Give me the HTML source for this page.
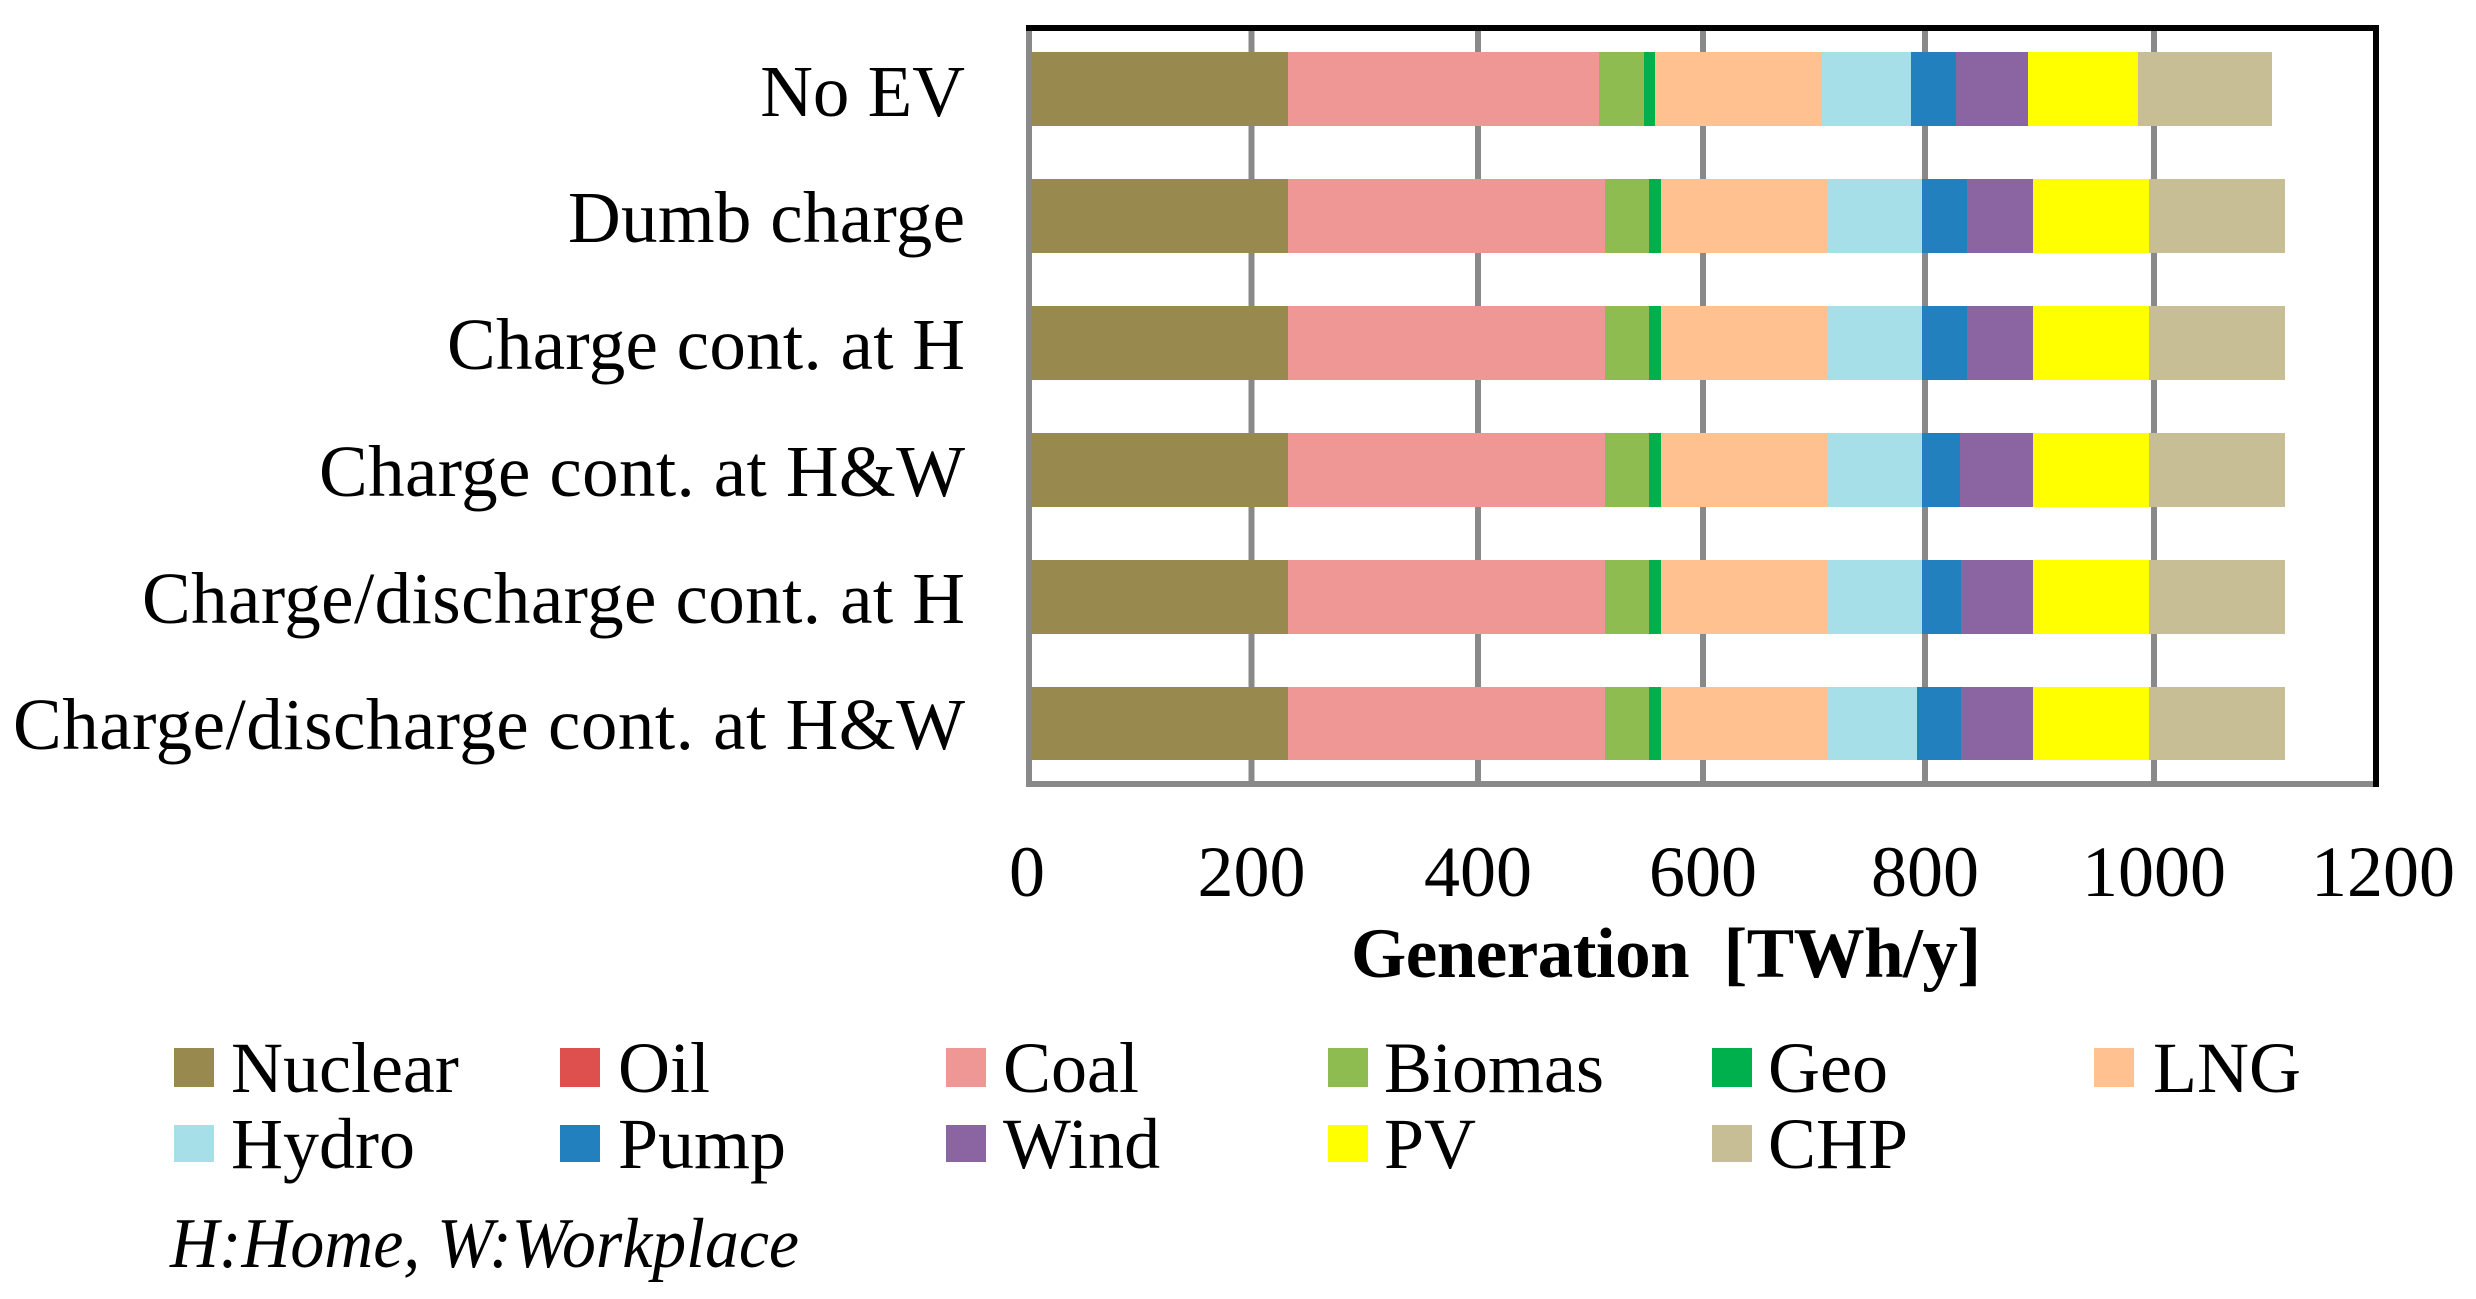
<!DOCTYPE html>
<html>
<head>
<meta charset="utf-8">
<style>
html,body{margin:0;padding:0;background:#fff;}
svg{display:block;}
text{font-family:"Liberation Serif","DejaVu Serif",serif;fill:#000;}
</style>
</head>
<body>
<svg width="2476" height="1299" viewBox="0 0 2476 1299" xmlns="http://www.w3.org/2000/svg">
<rect x="0" y="0" width="2476" height="1299" fill="#fff"/>

<!-- gridlines -->
<g fill="#898989">
<rect x="1248.5" y="31" width="6" height="750"/>
<rect x="1475" y="31" width="6" height="750"/>
<rect x="1700" y="31" width="6" height="750"/>
<rect x="1922" y="31" width="6" height="750"/>
<rect x="2151" y="31" width="6" height="750"/>
</g>

<!-- Bar 1: No EV -->
<g transform="translate(0,52)">
<rect x="1029" y="0" width="259" height="74" fill="#98894F"/>
<rect x="1288" y="0" width="311" height="74" fill="#EF9794"/>
<rect x="1599" y="0" width="45" height="74" fill="#8FBC51"/>
<rect x="1644" y="0" width="11" height="74" fill="#00B04C"/>
<rect x="1655" y="0" width="167" height="74" fill="#FFC190"/>
<rect x="1822" y="0" width="89" height="74" fill="#A7DFE9"/>
<rect x="1911" y="0" width="45" height="74" fill="#2380BE"/>
<rect x="1956" y="0" width="72" height="74" fill="#8B65A2"/>
<rect x="2028" y="0" width="110" height="74" fill="#FFFF00"/>
<rect x="2138" y="0" width="134" height="74" fill="#C8BE95"/>
</g>

<!-- Bar 2: Dumb charge -->
<g transform="translate(0,179)">
<rect x="1029" y="0" width="259" height="74" fill="#98894F"/>
<rect x="1288" y="0" width="317" height="74" fill="#EF9794"/>
<rect x="1605" y="0" width="44" height="74" fill="#8FBC51"/>
<rect x="1649" y="0" width="12" height="74" fill="#00B04C"/>
<rect x="1661" y="0" width="167" height="74" fill="#FFC190"/>
<rect x="1828" y="0" width="94" height="74" fill="#A7DFE9"/>
<rect x="1922" y="0" width="45" height="74" fill="#2380BE"/>
<rect x="1967" y="0" width="66" height="74" fill="#8B65A2"/>
<rect x="2033" y="0" width="116" height="74" fill="#FFFF00"/>
<rect x="2149" y="0" width="136" height="74" fill="#C8BE95"/>
</g>

<!-- Bar 3: Charge cont. at H -->
<g transform="translate(0,306)">
<rect x="1029" y="0" width="259" height="74" fill="#98894F"/>
<rect x="1288" y="0" width="317" height="74" fill="#EF9794"/>
<rect x="1605" y="0" width="44" height="74" fill="#8FBC51"/>
<rect x="1649" y="0" width="12" height="74" fill="#00B04C"/>
<rect x="1661" y="0" width="167" height="74" fill="#FFC190"/>
<rect x="1828" y="0" width="94" height="74" fill="#A7DFE9"/>
<rect x="1922" y="0" width="45" height="74" fill="#2380BE"/>
<rect x="1967" y="0" width="66" height="74" fill="#8B65A2"/>
<rect x="2033" y="0" width="116" height="74" fill="#FFFF00"/>
<rect x="2149" y="0" width="136" height="74" fill="#C8BE95"/>
</g>

<!-- Bar 4: Charge cont. at H&W -->
<g transform="translate(0,433)">
<rect x="1029" y="0" width="259" height="74" fill="#98894F"/>
<rect x="1288" y="0" width="317" height="74" fill="#EF9794"/>
<rect x="1605" y="0" width="44" height="74" fill="#8FBC51"/>
<rect x="1649" y="0" width="12" height="74" fill="#00B04C"/>
<rect x="1661" y="0" width="167" height="74" fill="#FFC190"/>
<rect x="1828" y="0" width="94" height="74" fill="#A7DFE9"/>
<rect x="1922" y="0" width="38" height="74" fill="#2380BE"/>
<rect x="1960" y="0" width="73" height="74" fill="#8B65A2"/>
<rect x="2033" y="0" width="116" height="74" fill="#FFFF00"/>
<rect x="2149" y="0" width="136" height="74" fill="#C8BE95"/>
</g>

<!-- Bar 5: Charge/discharge cont. at H -->
<g transform="translate(0,560)">
<rect x="1029" y="0" width="259" height="74" fill="#98894F"/>
<rect x="1288" y="0" width="317" height="74" fill="#EF9794"/>
<rect x="1605" y="0" width="44" height="74" fill="#8FBC51"/>
<rect x="1649" y="0" width="12" height="74" fill="#00B04C"/>
<rect x="1661" y="0" width="167" height="74" fill="#FFC190"/>
<rect x="1828" y="0" width="94" height="74" fill="#A7DFE9"/>
<rect x="1922" y="0" width="39" height="74" fill="#2380BE"/>
<rect x="1961" y="0" width="72" height="74" fill="#8B65A2"/>
<rect x="2033" y="0" width="116" height="74" fill="#FFFF00"/>
<rect x="2149" y="0" width="136" height="74" fill="#C8BE95"/>
</g>

<!-- Bar 6: Charge/discharge cont. at H&W -->
<g transform="translate(0,687)">
<rect x="1029" y="0" width="259" height="73" fill="#98894F"/>
<rect x="1288" y="0" width="317" height="73" fill="#EF9794"/>
<rect x="1605" y="0" width="44" height="73" fill="#8FBC51"/>
<rect x="1649" y="0" width="12" height="73" fill="#00B04C"/>
<rect x="1661" y="0" width="167" height="73" fill="#FFC190"/>
<rect x="1828" y="0" width="89" height="73" fill="#A7DFE9"/>
<rect x="1917" y="0" width="44" height="73" fill="#2380BE"/>
<rect x="1961" y="0" width="72" height="73" fill="#8B65A2"/>
<rect x="2033" y="0" width="116" height="73" fill="#FFFF00"/>
<rect x="2149" y="0" width="136" height="73" fill="#C8BE95"/>
</g>

<!-- axes / frame -->
<rect x="1026" y="27" width="6" height="760" fill="#898989"/>
<rect x="1026" y="781" width="1350" height="6" fill="#898989"/>
<rect x="1026" y="25" width="1353" height="6" fill="#000"/>
<rect x="2373" y="25" width="6" height="762" fill="#000"/>

<!-- category labels -->
<g font-size="73" text-anchor="end">
<text x="965" y="116">No EV</text>
<text x="965" y="242" textLength="397" lengthAdjust="spacing">Dumb charge</text>
<text x="965" y="369" textLength="518" lengthAdjust="spacing">Charge cont. at H</text>
<text x="965" y="496" textLength="646" lengthAdjust="spacing">Charge cont. at H&amp;W</text>
<text x="965" y="623" textLength="823" lengthAdjust="spacing">Charge/discharge cont. at H</text>
<text x="965" y="749" textLength="952" lengthAdjust="spacing">Charge/discharge cont. at H&amp;W</text>
</g>

<!-- tick labels -->
<g font-size="72" text-anchor="middle">
<text x="1027" y="896">0</text>
<text x="1251.5" y="896">200</text>
<text x="1478" y="896">400</text>
<text x="1703" y="896">600</text>
<text x="1925" y="896">800</text>
<text x="2154" y="896">1000</text>
<text x="2383" y="896">1200</text>
</g>

<!-- axis title -->
<text x="1351" y="977" font-size="71" font-weight="bold" textLength="630" lengthAdjust="spacing" xml:space="preserve">Generation  [TWh/y]</text>

<!-- legend -->
<g font-size="72">
<rect x="174" y="1048" width="40" height="39" fill="#98894F"/><text x="231" y="1092">Nuclear</text>
<rect x="560" y="1048" width="40" height="39" fill="#DE504D"/><text x="618" y="1092">Oil</text>
<rect x="946" y="1048" width="40" height="39" fill="#EF9794"/><text x="1003" y="1092">Coal</text>
<rect x="1328" y="1048" width="40" height="39" fill="#8FBC51"/><text x="1384" y="1092">Biomas</text>
<rect x="1712" y="1048" width="40" height="39" fill="#00B04C"/><text x="1768" y="1092">Geo</text>
<rect x="2094" y="1048" width="40" height="39" fill="#FFC190"/><text x="2153" y="1092">LNG</text>

<rect x="174" y="1125" width="40" height="37" fill="#A7DFE9"/><text x="231" y="1168">Hydro</text>
<rect x="560" y="1125" width="40" height="37" fill="#2380BE"/><text x="618" y="1168">Pump</text>
<rect x="946" y="1125" width="40" height="37" fill="#8B65A2"/><text x="1003" y="1168">Wind</text>
<rect x="1328" y="1125" width="40" height="37" fill="#FFFF00"/><text x="1384" y="1168">PV</text>
<rect x="1712" y="1125" width="40" height="37" fill="#C8BE95"/><text x="1768" y="1168">CHP</text>
</g>

<text x="170" y="1267" font-size="71" font-style="italic" textLength="629" lengthAdjust="spacingAndGlyphs">H:Home, W:Workplace</text>
</svg>
</body>
</html>
